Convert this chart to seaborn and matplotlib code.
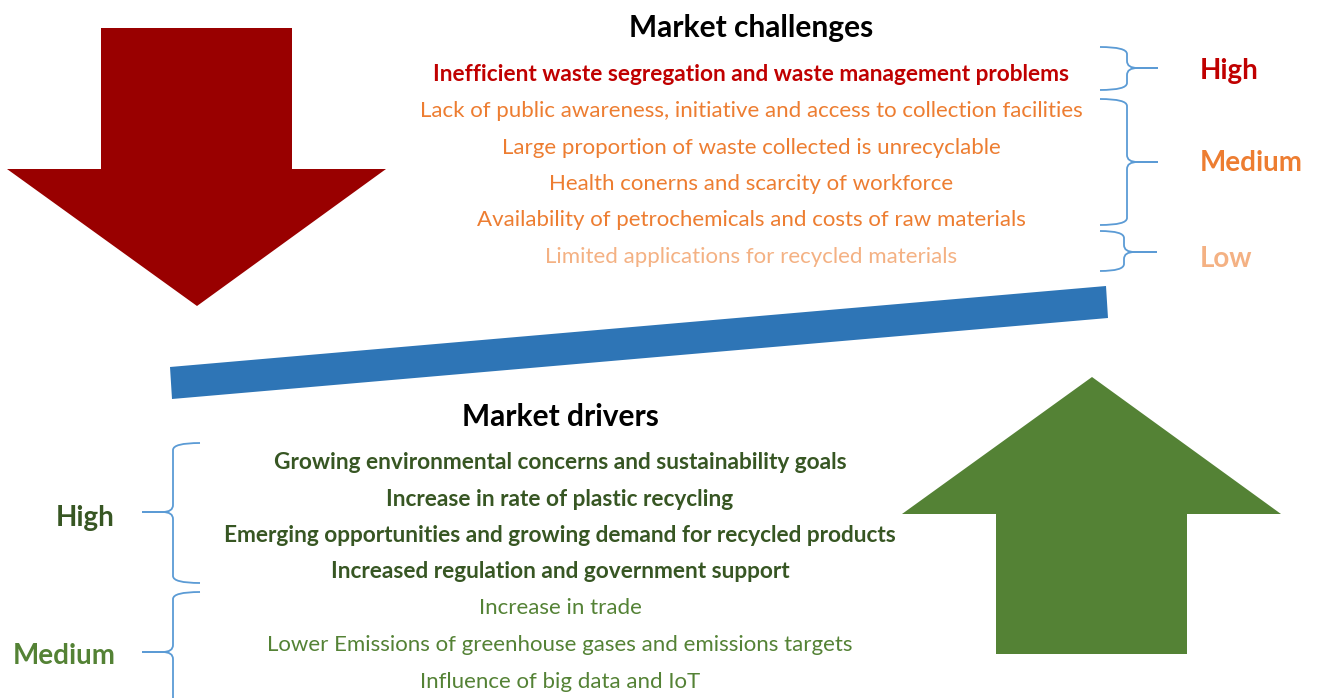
import numpy as np
import matplotlib.pyplot as plt
import seaborn as sns
from matplotlib.patches import Polygon, PathPatch
from matplotlib.path import Path

# --- content ---
challenges = [
    "Inefficient waste segregation and waste management problems",
    "Lack of public awareness, initiative and access to collection facilities",
    "Large proportion of waste collected is unrecyclable",
    "Health conerns and scarcity of workforce",
    "Availability of petrochemicals and costs of raw materials",
    "Limited applications for recycled materials",
]
challenge_levels = ["High", "Medium", "Medium", "Medium", "Medium", "Low"]

drivers = [
    "Growing environmental concerns and sustainability goals",
    "Increase in rate of plastic recycling",
    "Emerging opportunities and growing demand for recycled products",
    "Increased regulation and government support",
    "Increase in trade",
    "Lower Emissions of greenhouse gases and emissions targets",
    "Influence of big data and IoT",
]
driver_levels = ["High", "High", "High", "High", "Medium", "Medium", "Medium"]

challenge_colors = {"High": "#C00000", "Medium": "#ED7D31", "Low": "#F4B183"}
driver_colors = {"High": "#375623", "Medium": "#548235"}
brace_color = "#5B9BD5"

sns.set_theme(style="white")
plt.rcParams["font.family"] = ["Lato", "DejaVu Sans"]

W, H = 1317, 698
fig = plt.figure(figsize=(W / 100, H / 100), dpi=100)
ax = fig.add_axes([0, 0, 1, 1])
ax.set_xlim(0, W)
ax.set_ylim(H, 0)
ax.axis("off")


def brace(ax, x_end, x_mid, x_tip, top, bottom, tip, r=7):
    # curly brace drawn as two halves meeting at the tip
    d = np.sign(x_tip - x_mid)
    for end, sgn in ((top, 1), (bottom, -1)):
        verts = [(x_end, end), (x_mid, end), (x_mid, end + sgn * r),
                 (x_mid, tip - sgn * r), (x_mid, tip), (x_mid + d * r * 1.5, tip),
                 (x_tip, tip)]
        codes = [Path.MOVETO, Path.CURVE3, Path.CURVE3, Path.LINETO,
                 Path.CURVE3, Path.CURVE3, Path.LINETO]
        ax.add_patch(PathPatch(Path(verts, codes), fill=False,
                               edgecolor=brace_color, lw=1.3))


# arrows and the tilted balance bar
ax.add_patch(Polygon([(101, 28), (292, 28), (292, 169), (386, 169), (197, 306),
                      (7, 169), (101, 169)], closed=True, color="#990000", lw=0))
ax.add_patch(Polygon([(996, 654), (1187, 654), (1187, 514), (1281, 514), (1092, 377),
                      (902, 514), (996, 514)], closed=True, color="#548235", lw=0))
ax.add_patch(Polygon([(170, 367), (1106, 286), (1108, 318), (172, 399)],
                     closed=True, color="#2E75B6", lw=0))

# challenges block
ax.text(751, 28.5, "Market challenges", ha="center", va="center",
        fontsize=21.5, fontweight="bold", color="black")
for i, (txt, lvl) in enumerate(zip(challenges, challenge_levels)):
    bold = lvl == "High"
    ax.text(751, 74.5 + i * 36.5, txt, ha="center", va="center",
            fontsize=16.3 if bold else 16,
            fontweight="bold" if bold else "normal",
            color=challenge_colors[lvl])

brace(ax, 1100, 1127, 1158, 47, 90, 68)
brace(ax, 1100, 1127, 1158, 99, 225, 162)
brace(ax, 1100, 1124, 1157, 231, 271, 252)
for lbl, y in (("High", 71), ("Medium", 163), ("Low", 259)):
    ax.text(1200, y, lbl, ha="left", va="center", fontsize=20,
            fontweight="bold", color=challenge_colors[lbl])

# drivers block
ax.text(560, 417, "Market drivers", ha="center", va="center",
        fontsize=21.5, fontweight="bold", color="black")
for i, (txt, lvl) in enumerate(zip(drivers, driver_levels)):
    bold = lvl == "High"
    ax.text(560, 462.5 + i * 36.5, txt, ha="center", va="center",
            fontsize=16.3 if bold else 16,
            fontweight="bold" if bold else "normal",
            color=driver_colors[lvl])

brace(ax, 200, 173, 142, 443, 583, 512)
brace(ax, 200, 173, 142, 592, 760, 652)
ax.text(85, 518, "High", ha="center", va="center", fontsize=20,
        fontweight="bold", color=driver_colors["High"])
ax.text(64, 656, "Medium", ha="center", va="center", fontsize=20,
        fontweight="bold", color=driver_colors["Medium"])

fig.savefig("out.png", dpi=100)
